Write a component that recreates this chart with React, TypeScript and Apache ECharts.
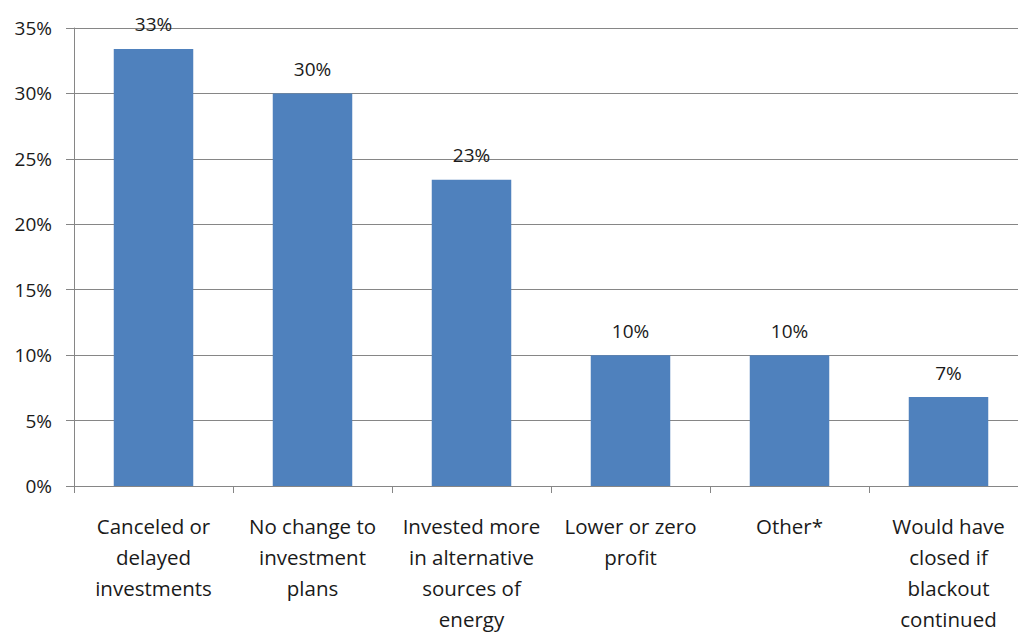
import React, { useEffect, useRef } from "react";
import * as echarts from "echarts";

const categories = [
  "Canceled or\ndelayed\ninvestments",
  "No change to\ninvestment\nplans",
  "Invested more\nin alternative\nsources of\nenergy",
  "Lower or zero\nprofit",
  "Other*",
  "Would have\nclosed if\nblackout\ncontinued",
];
const values = [33.4, 30.0, 23.4, 10.0, 10.0, 6.8];
const yTicks = { min: 0, max: 35, interval: 5 };

export default function App() {
  const ref = useRef<HTMLDivElement>(null);
  useEffect(() => {
    if (!ref.current) return;
    const chart = echarts.init(ref.current, undefined, { renderer: "svg" });
    const font = "'Open Sans', sans-serif";
    chart.setOption({
      animation: false,
      grid: { left: 74, top: 28, right: 2, bottom: 146, containLabel: false, outerBoundsMode: "none" },
      xAxis: {
        type: "category",
        data: categories,
        axisLine: { lineStyle: { color: "#868686", width: 1 } },
        axisTick: { show: true, length: 7, lineStyle: { color: "#868686" } },
        axisLabel: {
          interval: 0,
          margin: 24,
          color: "#1a1a1a",
          fontSize: 20.5,
          lineHeight: 31,
          fontFamily: font,
        },
      },
      yAxis: {
        type: "value",
        min: yTicks.min,
        max: yTicks.max,
        interval: yTicks.interval,
        axisLine: { show: true, lineStyle: { color: "#868686", width: 1 } },
        axisTick: { show: true, length: 8, lineStyle: { color: "#868686" } },
        splitLine: { show: true, lineStyle: { color: "#868686", width: 1 } },
        axisLabel: {
          margin: 22,
          color: "#1a1a1a",
          fontSize: 19,
          fontFamily: font,
          formatter: (v: number) => v + "%",
        },
      },
      series: [
        {
          type: "bar",
          data: values,
          barWidth: "50%",
          itemStyle: { color: "#4F81BD" },
          label: {
            show: true,
            position: "top",
            distance: 15,
            color: "#1a1a1a",
            fontSize: 19,
            fontFamily: font,
            formatter: (p: any) => Math.round(p.value) + "%",
          },
        },
      ],
    });
    return () => chart.dispose();
  }, []);
  return (
    <div style={{ position: "absolute", left: 0, top: 0, width: 1018, height: 632, overflow: "hidden" }}>
      <div ref={ref} style={{ width: 1030, height: 632 }} />
    </div>
  );
}
